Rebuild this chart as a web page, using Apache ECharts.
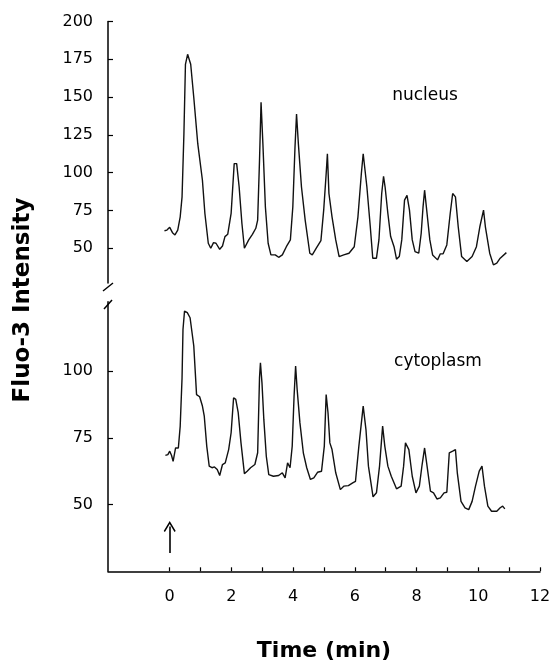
<!DOCTYPE html>
<html><head><meta charset="utf-8">
<script src="https://cdn.jsdelivr.net/npm/echarts@6/dist/echarts.min.js"></script>
<style>html,body{margin:0;padding:0;background:#fff}#c{width:556px;height:663px}</style>
</head><body><div id="c"></div>
<script>
// ---- data (time in min, Fluo-3 intensity) ----
const nucleusTime = [-0.17,-0.09,0,0.09,0.17,0.26,0.34,0.40,0.46,0.51,0.58,0.68,0.78,0.91,1.06,1.14,1.25,1.33,1.42,1.50,1.62,1.71,1.79,1.88,1.99,2.09,2.17,2.25,2.34,2.42,2.56,2.68,2.79,2.85,2.91,2.96,3.02,3.10,3.19,3.28,3.42,3.53,3.65,3.78,3.91,3.99,4.06,4.11,4.17,4.27,4.39,4.54,4.62,4.75,4.90,4.99,5.07,5.11,5.16,5.26,5.38,5.49,5.64,5.81,5.98,6.10,6.21,6.27,6.39,6.50,6.58,6.70,6.78,6.87,6.93,6.98,7.07,7.16,7.27,7.35,7.44,7.52,7.61,7.69,7.77,7.86,7.95,8.07,8.15,8.21,8.26,8.34,8.43,8.52,8.68,8.77,8.86,8.98,9.09,9.17,9.26,9.35,9.46,9.63,9.80,9.94,10.05,10.17,10.23,10.37,10.49,10.60,10.71,10.91];
const nucleusValue = [61.6,62,63.8,60.3,58.8,62,70.8,84,125.6,171.7,178.3,171.7,149.7,119,95,73,53.3,50,53.7,53.3,49.3,51.5,57.7,59.2,73,106,106,90.5,66.4,50,55.5,59.2,63.2,68.6,108,146.5,119,77.4,53.3,45.6,45.6,44,45.6,51,55.5,77.4,116.8,138.8,119,90.5,68.6,46.7,45.6,50,55,75.2,99.3,112.5,86.2,70.8,55.5,44.5,45.6,46.7,51,70.8,99.3,112.5,90.5,64.2,43.4,43.4,55.5,86.2,97.6,90.5,73,57.7,51,42.8,44.5,55.5,81.8,85,75.2,55.5,47.8,46.7,59.9,77.4,88.4,73,55.5,45.6,42.3,46.3,46.3,52.2,73,86.2,84,64.2,44.5,41.2,44.5,51,64.2,75.2,64.2,46.7,39,40.1,43.4,47.1];

const cytoTime = [-0.14,-0.06,0,0.06,0.11,0.19,0.28,0.34,0.40,0.43,0.48,0.57,0.66,0.78,0.87,0.97,1.06,1.12,1.20,1.28,1.37,1.45,1.54,1.62,1.71,1.80,1.91,1.99,2.07,2.14,2.22,2.31,2.42,2.51,2.62,2.76,2.85,2.91,2.94,2.99,3.05,3.13,3.21,3.36,3.53,3.65,3.74,3.82,3.90,3.97,4.03,4.08,4.13,4.22,4.33,4.44,4.56,4.67,4.79,4.92,5.01,5.07,5.13,5.19,5.26,5.38,5.53,5.64,5.79,5.93,6.02,6.13,6.27,6.36,6.44,6.59,6.70,6.80,6.90,6.97,7.07,7.18,7.35,7.50,7.58,7.64,7.75,7.86,7.98,8.09,8.18,8.26,8.34,8.45,8.55,8.66,8.77,8.89,8.98,9.06,9.17,9.26,9.32,9.44,9.57,9.69,9.80,9.91,10.03,10.12,10.20,10.31,10.43,10.60,10.71,10.79,10.86];
const cytoValue = [68.4,68.7,70,68.4,66.2,71.2,71.2,79.4,97.5,115.6,122.5,121.9,120,109.4,91.2,90.4,86.9,83.1,71.9,64.4,63.8,64.1,63.1,60.9,65,65.6,70.6,76.9,90,89.4,84.4,73.1,61.6,62.5,63.8,65,69.4,97.5,103.1,95.6,81.9,68.1,61.2,60.6,60.9,61.9,60,65.6,63.8,71.9,90.6,101.9,93.1,80.6,69.4,63.8,59.4,60,62.1,62.5,71.9,91.2,84.4,73.1,70.6,61.9,55.6,56.9,57.1,58.1,58.7,71.9,86.9,78.1,64.4,52.9,54.4,64.4,79.4,71.9,64.4,60.6,55.9,56.9,64.4,73.1,70.6,60.6,54.4,56.9,65,71.2,64.4,55,54.4,52.1,52.5,54.4,54.6,69.4,70,70.6,61.9,51.2,48.8,48.1,51.2,56.9,62.5,64.4,56.9,49.4,47.5,47.5,48.8,49.4,48.4];

const xTickValues = [0,1,2,3,4,5,6,7,8,9,10,11,12];
const xLabelValues = [0,2,4,6,8,10,12];
const nucleusTicks = [50,75,100,125,150,175,200];
const cytoTicks = [50,75,100];
const arrowTime = [0, 0];
const arrowValue = [31.9, 41.8];

const FONT = '"DejaVu Sans", sans-serif';
const zip = (a, b) => a.map((t, i) => [t, b[i]]);

const chart = echarts.init(document.getElementById('c'), null, {renderer: 'canvas'});

const axisLineStyle = {color: '#000', width: 1.5};

chart.setOption({
  animation: false,
  backgroundColor: '#fff',
  grid: [
    {left: 108, right: 16, top: 21.5, height: 261.5, containLabel: false, outerBoundsMode: 'none'},
    {left: 108, right: 16, top: 301.7, height: 269.6, containLabel: false, outerBoundsMode: 'none'}
  ],
  xAxis: [
    {gridIndex: 0, type: 'value', min: -2, max: 12, show: false},
    {gridIndex: 1, type: 'value', min: -2, max: 12,
     axisLine: {show: true, onZero: false, lineStyle: axisLineStyle},
     axisTick: {show: true, inside: true, length: 4, customValues: xTickValues, lineStyle: {color: '#000', width: 1.2}},
     axisLabel: {show: true, customValues: xLabelValues, margin: 18, color: '#000', fontSize: 16, fontFamily: FONT},
     splitLine: {show: false},
     name: 'Time (min)', nameLocation: 'middle', nameGap: 69,
     nameTextStyle: {color: '#000', fontSize: 22, fontWeight: 'bold', fontFamily: FONT}}
  ],
  yAxis: [
    {gridIndex: 0, type: 'value', min: 27, max: 200,
     axisLine: {show: true, onZero: false, lineStyle: axisLineStyle},
     axisTick: {show: true, inside: true, length: 5, customValues: nucleusTicks, lineStyle: {color: '#000', width: 1.2}},
     axisLabel: {show: true, customValues: nucleusTicks, margin: 15, color: '#000', fontSize: 16, fontFamily: FONT},
     splitLine: {show: false}},
    {gridIndex: 1, type: 'value', min: 25, max: 126,
     axisLine: {show: true, onZero: false, lineStyle: axisLineStyle},
     axisTick: {show: true, inside: true, length: 5, customValues: cytoTicks, lineStyle: {color: '#000', width: 1.2}},
     axisLabel: {show: true, customValues: cytoTicks, margin: 15, color: '#000', fontSize: 16, fontFamily: FONT},
     splitLine: {show: false}}
  ],
  series: [
    {name: 'nucleus', type: 'line', xAxisIndex: 0, yAxisIndex: 0, data: zip(nucleusTime, nucleusValue),
     symbol: 'none', lineStyle: {color: '#111', width: 1.4}, silent: true},
    {name: 'cytoplasm', type: 'line', xAxisIndex: 1, yAxisIndex: 1, data: zip(cytoTime, cytoValue),
     symbol: 'none', lineStyle: {color: '#111', width: 1.4}, silent: true,
     markLine: {
       silent: true, animation: false,
       symbol: ['none', 'path://M0,0 L6,10 L4.8,11 L0,3 L-4.8,11 L-6,10 Z'],
       symbolSize: [12, 11],
       label: {show: false},
       lineStyle: {color: '#000', width: 1.6, type: 'solid'},
       data: [[{coord: [arrowTime[0], arrowValue[0]]}, {coord: [arrowTime[1], arrowValue[1]]}]]
     }}
  ],
  graphic: [
    {type: 'text', x: 23, y: 300, rotation: Math.PI / 2,
     style: {text: 'Fluo-3 Intensity', x: 0, y: 0, textAlign: 'center', textVerticalAlign: 'middle',
             font: 'bold 23px ' + FONT, fill: '#000'}},
    {type: 'text', x: 425, y: 96,
     style: {text: 'nucleus', textAlign: 'center', textVerticalAlign: 'middle', font: '17px ' + FONT, fill: '#000'}},
    {type: 'text', x: 438, y: 362,
     style: {text: 'cytoplasm', textAlign: 'center', textVerticalAlign: 'middle', font: '17px ' + FONT, fill: '#000'}},
    {type: 'line', shape: {x1: 103, y1: 291, x2: 113, y2: 283}, style: {stroke: '#000', lineWidth: 1.5}},
    {type: 'line', shape: {x1: 104, y1: 309, x2: 112, y2: 300}, style: {stroke: '#000', lineWidth: 1.5}}
  ]
});
</script></body></html>
